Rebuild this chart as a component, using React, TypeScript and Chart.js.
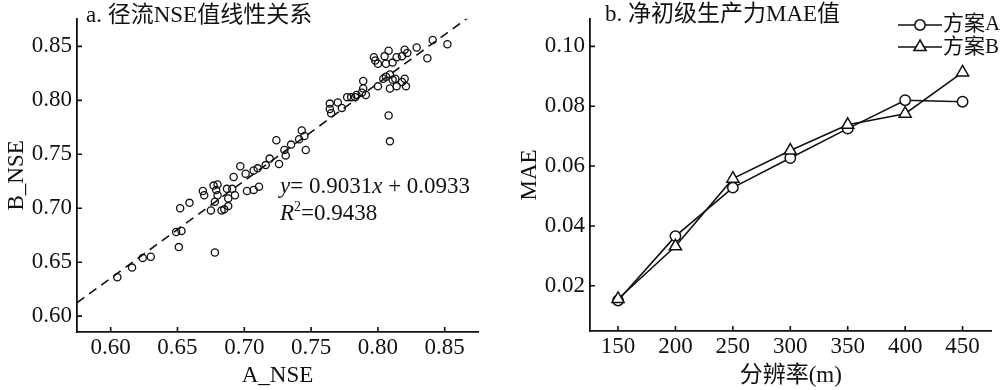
import React, { useEffect, useRef } from "react";
import { Chart, registerables } from "chart.js";

Chart.register(...registerables);

const SERIF = "'Liberation Serif', 'Noto Sans CJK SC', serif";
const INK = "#111111";

// ---------- Panel a: runoff NSE linear relation ----------
const TITLE_A = "a. 径流NSE值线性关系";
const X_TITLE_A = "A_NSE";
const Y_TITLE_A = "B_NSE";
const A_NSE = [
  0.605, 0.616, 0.624, 0.630, 0.649, 0.653, 0.651, 0.678, 0.652, 0.659,
  0.669, 0.670, 0.675, 0.677, 0.680, 0.679, 0.680, 0.678, 0.683, 0.685,
  0.688, 0.687, 0.691, 0.688, 0.693, 0.692, 0.697, 0.701, 0.702, 0.707,
  0.711, 0.707, 0.710, 0.716, 0.719, 0.724, 0.726, 0.730, 0.731, 0.735,
  0.741, 0.743, 0.746, 0.745, 0.764, 0.770, 0.764, 0.765, 0.773, 0.777,
  0.780, 0.783, 0.784, 0.788, 0.789, 0.791, 0.789, 0.800, 0.804, 0.806,
  0.809, 0.809, 0.811, 0.813, 0.814, 0.818, 0.820, 0.821, 0.797, 0.798,
  0.800, 0.806, 0.805, 0.808, 0.811, 0.814, 0.818, 0.820, 0.822, 0.829,
  0.837, 0.841, 0.852, 0.808, 0.809,
];
const B_NSE = [
  0.636, 0.645, 0.654, 0.655, 0.678, 0.679, 0.664, 0.659, 0.700, 0.705,
  0.716, 0.712, 0.698, 0.721, 0.722, 0.717, 0.712, 0.706, 0.698, 0.699,
  0.702, 0.718, 0.718, 0.709, 0.712, 0.729, 0.739, 0.732, 0.716, 0.717,
  0.720, 0.735, 0.737, 0.740, 0.746, 0.763, 0.741, 0.754, 0.749, 0.759,
  0.764, 0.772, 0.754, 0.767, 0.797, 0.798, 0.792, 0.788, 0.793, 0.803,
  0.803, 0.803, 0.805, 0.807, 0.811, 0.805, 0.818, 0.813, 0.820, 0.822,
  0.824, 0.811, 0.819, 0.820, 0.813, 0.817, 0.820, 0.813, 0.840, 0.837,
  0.834, 0.834, 0.841, 0.846, 0.835, 0.840, 0.841, 0.847, 0.844, 0.849,
  0.839, 0.856, 0.852, 0.786, 0.762,
];
const FIT_SLOPE = 0.9031;
const FIT_INTERCEPT = 0.0933;
const FIT_R2 = "0.9438";
const NSE_TICKS = [0.6, 0.65, 0.7, 0.75, 0.8, 0.85];
const X_RANGE_A = [0.5748, 0.8749];
const Y_RANGE_A = [0.5853, 0.8756];

// ---------- Panel b: NPP MAE ----------
const TITLE_B = "b. 净初级生产力MAE值";
const X_TITLE_B = "分辨率(m)";
const Y_TITLE_B = "MAE";
const RESOLUTION = [150, 200, 250, 300, 350, 400, 450];
const MAE_A = [0.0151, 0.0366, 0.0528, 0.0627, 0.0725, 0.0820, 0.0815];
const MAE_B = [0.0156, 0.0332, 0.0558, 0.0652, 0.0738, 0.0775, 0.0913];
const SERIES = ["方案A", "方案B"];
const RES_TICKS = [150, 200, 250, 300, 350, 400, 450];
const MAE_TICKS = [0.02, 0.04, 0.06, 0.08, 0.1];
const X_RANGE_B = [125.6, 475.2];
const Y_RANGE_B = [0.0049, 0.1092];

const inwardTicks = {
  id: "inwardTicks",
  afterDatasetsDraw(chart: any) {
    const { ctx, chartArea } = chart;
    const xs = chart.scales.x;
    const ys = chart.scales.y;
    ctx.save();
    ctx.strokeStyle = INK;
    ctx.lineWidth = 1.6;
    ctx.beginPath();
    xs.ticks.forEach((t: any) => {
      const p = xs.getPixelForValue(t.value);
      ctx.moveTo(p, chartArea.bottom);
      ctx.lineTo(p, chartArea.bottom - 5);
    });
    ys.ticks.forEach((t: any) => {
      const p = ys.getPixelForValue(t.value);
      ctx.moveTo(chartArea.left, p);
      ctx.lineTo(chartArea.left + 5, p);
    });
    ctx.stroke();
    ctx.restore();
  },
};

function drawRuns(ctx: any, runs: any[], x: number, y: number) {
  for (const r of runs) {
    ctx.font = r.font;
    ctx.fillText(r.text, x, y + (r.dy || 0));
    x += ctx.measureText(r.text).width;
  }
}

function makeAxis(
  range: number[],
  ticks: number[],
  fmt: (v: number) => string,
  title: string,
  isX: boolean,
  size: number,
  pad: number
) {
  return {
    type: "linear",
    position: isX ? "bottom" : "left",
    min: range[0],
    max: range[1],
    afterBuildTicks: (s: any) => {
      s.ticks = ticks.map((v) => ({ value: v }));
    },
    afterFit: (s: any) => {
      if (isX) s.height = size;
      else s.width = size;
    },
    grid: { display: false, drawTicks: false },
    border: { display: true, color: INK, width: 1.8 },
    ticks: {
      color: INK,
      padding: pad,
      autoSkip: false,
      maxRotation: 0,
      font: { family: SERIF, size: 23 },
      callback: (v: any) => fmt(Number(v)),
    },
    title: {
      display: true,
      text: title,
      color: INK,
      padding: 0,
      font: { family: SERIF, size: 23 },
    },
  };
}

function ScatterPanel() {
  const ref = useRef<HTMLCanvasElement>(null);
  useEffect(() => {
    const points = A_NSE.map((a, i) => ({ x: a, y: B_NSE[i] }));
    const fit = X_RANGE_A.map((x) => ({ x, y: FIT_SLOPE * x + FIT_INTERCEPT }));
    const annotations = {
      id: "annotA",
      afterDraw(chart: any) {
        const ctx = chart.ctx;
        ctx.save();
        ctx.fillStyle = INK;
        ctx.textBaseline = "alphabetic";
        ctx.textAlign = "left";
        ctx.font = `23px ${SERIF}`;
        ctx.fillText(TITLE_A, 86, 22);
        const reg = `23px ${SERIF}`;
        const it = `italic 23px ${SERIF}`;
        drawRuns(
          ctx,
          [
            { text: "y", font: it },
            { text: "= " + FIT_SLOPE.toFixed(4), font: reg },
            { text: "x", font: it },
            { text: " + " + FIT_INTERCEPT.toFixed(4), font: reg },
          ],
          280,
          193
        );
        drawRuns(
          ctx,
          [
            { text: "R", font: it },
            { text: "2", font: `14px ${SERIF}`, dy: -9 },
            { text: "=" + FIT_R2, font: reg },
          ],
          280,
          220
        );
        ctx.restore();
      },
    };
    const chart = new Chart(ref.current as HTMLCanvasElement, {
      type: "scatter",
      data: {
        datasets: [
          {
            type: "scatter",
            data: points,
            pointStyle: "circle",
            pointRadius: 3.6,
            pointBorderWidth: 1.3,
            pointBorderColor: INK,
            pointBackgroundColor: "rgba(0,0,0,0)",
            showLine: false,
          } as any,
          {
            type: "line",
            data: fit,
            borderColor: INK,
            borderWidth: 1.6,
            borderDash: [9, 6],
            pointRadius: 0,
            fill: false,
          } as any,
        ],
      },
      options: {
        responsive: false,
        animation: false,
        devicePixelRatio: 1,
        layout: { padding: { left: 3, right: 22, top: 15, bottom: 0 } },
        plugins: { legend: { display: false }, tooltip: { enabled: false } },
        scales: {
          x: makeAxis(X_RANGE_A, NSE_TICKS, (v) => v.toFixed(2), X_TITLE_A, true, 58, 2) as any,
          y: makeAxis(Y_RANGE_A, NSE_TICKS, (v) => v.toFixed(2), Y_TITLE_A, false, 74, 5) as any,
        },
      },
      plugins: [inwardTicks, annotations],
    });
    return () => chart.destroy();
  }, []);
  return (
    <canvas
      ref={ref}
      width={500}
      height={390}
      style={{ position: "absolute", left: 0, top: 0, width: 500, height: 390 }}
    />
  );
}

function drawMarker(ctx: any, style: string, x: number, y: number) {
  ctx.beginPath();
  if (style === "circle") {
    ctx.arc(x, y, 5.2, 0, Math.PI * 2);
  } else {
    const r = 7;
    ctx.moveTo(x, y - r);
    ctx.lineTo(x + r * Math.sin((2 * Math.PI) / 3), y - r * Math.cos((2 * Math.PI) / 3));
    ctx.lineTo(x + r * Math.sin((4 * Math.PI) / 3), y - r * Math.cos((4 * Math.PI) / 3));
    ctx.closePath();
  }
  ctx.fillStyle = "#ffffff";
  ctx.fill();
  ctx.stroke();
}

function LinePanel() {
  const ref = useRef<HTMLCanvasElement>(null);
  useEffect(() => {
    const styles = ["circle", "triangle"];
    const annotations = {
      id: "annotB",
      afterDraw(chart: any) {
        const ctx = chart.ctx;
        ctx.save();
        ctx.fillStyle = INK;
        ctx.textBaseline = "alphabetic";
        ctx.textAlign = "left";
        ctx.font = `23px ${SERIF}`;
        ctx.fillText(TITLE_B, 89, 21);
        const rows = [25, 47];
        const baselines = [30, 52.5];
        SERIES.forEach((name, i) => {
          const y = rows[i];
          ctx.strokeStyle = INK;
          ctx.lineWidth = 1.6;
          ctx.beginPath();
          ctx.moveTo(382, y);
          ctx.lineTo(426, y);
          ctx.stroke();
          drawMarker(ctx, styles[i], 404, y);
          ctx.fillStyle = INK;
          ctx.font = `21px ${SERIF}`;
          ctx.fillText(name, 427, baselines[i]);
        });
        ctx.restore();
      },
    };
    const chart = new Chart(ref.current as HTMLCanvasElement, {
      type: "line",
      data: {
        datasets: [
          {
            label: SERIES[0],
            data: RESOLUTION.map((x, i) => ({ x, y: MAE_A[i] })),
            borderColor: INK,
            borderWidth: 1.6,
            pointStyle: "circle",
            pointRadius: 5.2,
            pointBorderWidth: 1.5,
            pointBorderColor: INK,
            pointBackgroundColor: "#ffffff",
            order: 2,
            tension: 0,
          },
          {
            label: SERIES[1],
            data: RESOLUTION.map((x, i) => ({ x, y: MAE_B[i] })),
            borderColor: INK,
            borderWidth: 1.6,
            pointStyle: "triangle",
            pointRadius: 7,
            pointBorderWidth: 1.5,
            pointBorderColor: INK,
            pointBackgroundColor: "#ffffff",
            order: 1,
            tension: 0,
          },
        ],
      },
      options: {
        responsive: false,
        animation: false,
        devicePixelRatio: 1,
        layout: { padding: { left: 0, right: 8, top: 13, bottom: 0 } },
        plugins: { legend: { display: false }, tooltip: { enabled: false } },
        scales: {
          x: makeAxis(X_RANGE_B, RES_TICKS, (v) => String(Math.round(v)), X_TITLE_B, true, 59, 2) as any,
          y: makeAxis(Y_RANGE_B, MAE_TICKS, (v) => v.toFixed(2), Y_TITLE_B, false, 74, 5) as any,
        },
      },
      plugins: [inwardTicks, annotations],
    });
    return () => chart.destroy();
  }, []);
  return (
    <canvas
      ref={ref}
      width={484}
      height={390}
      style={{ position: "absolute", left: 516, top: 0, width: 484, height: 390 }}
    />
  );
}

export default function App() {
  return (
    <div
      style={{
        position: "fixed",
        left: 0,
        top: 0,
        width: 1000,
        height: 390,
        background: "#ffffff",
        overflow: "hidden",
      }}
    >
      <ScatterPanel />
      <LinePanel />
    </div>
  );
}
